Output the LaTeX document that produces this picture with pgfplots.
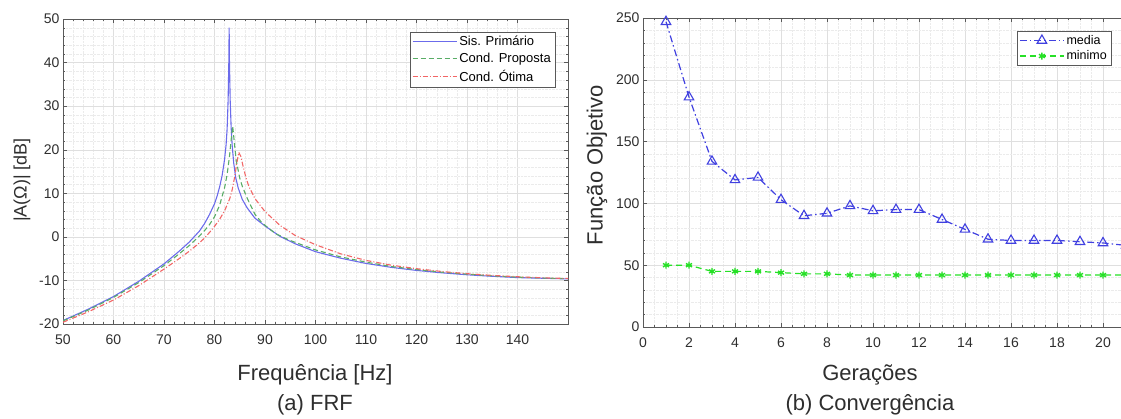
\documentclass[border=0pt]{standalone}
\usepackage{pgfplots}
\pgfplotsset{compat=1.18}
\usepackage{fontspec}
\setmainfont{Liberation Sans}
\definecolor{axgray}{rgb}{0.35,0.35,0.35}
\definecolor{txtgray}{rgb}{0.18,0.18,0.18}
\definecolor{cblue}{rgb}{0.42,0.42,0.92}
\definecolor{cgreen}{rgb}{0.35,0.68,0.40}
\definecolor{cred}{rgb}{0.95,0.40,0.40}
\definecolor{mblue}{rgb}{0.25,0.25,0.88}
\definecolor{mgreen}{rgb}{0.15,0.88,0.15}
\pgfplotsset{
  mystyle/.style={
    scale only axis,
    axis line style={axgray},
    every tick/.style={axgray},
    grid=both,
    major grid style={gray!25},
    minor grid style={gray!16, densely dotted},
    tick label style={font=\fontsize{14}{15}\selectfont, text=txtgray},
    xticklabel style={yshift=-7pt},
    /pgf/number format/assume math mode=true,
    major tick length=4pt,
    minor tick length=2pt,
    legend cell align=left,
  }
}
\begin{document}
\begin{tikzpicture}
\useasboundingbox (0pt,0pt) rectangle (1121pt,-419pt);
\begin{axis}[mystyle,
  at={(63pt,-324pt)}, anchor=south west,
  width=505pt, height=305pt,
  xmin=50, xmax=150, ymin=-20, ymax=50,
  xtick={50,60,...,140}, ytick={-20,-10,...,50},
  minor x tick num=4, minor y tick num=4,
  legend style={at={(axis description cs:1,1)}, anchor=north east, xshift=-13pt, yshift=-13pt,
    font=\fontsize{13}{14}\selectfont, draw=axgray, fill=white, inner sep=2pt, row sep=2pt},
  legend image code/.code={\draw[#1] (0pt,0pt) -- (44pt,0pt);},
]
\addplot[cblue, line width=1.1pt] coordinates {
(50,-19.2) (55,-16.6) (60,-13.7) (65,-10.2) (70,-6.2) (73,-3.3) (75,-1.2) (77,1.3)
(78,3.0) (79,5.1) (80,7.6) (80.5,9.3) (81,11.4) (81.5,14.0) (82,17.8) (82.3,21.2)
(82.5,24.8) (82.7,31.5) (82.85,41) (82.9,48) (82.95,41) (83.1,31.5) (83.3,25)
(83.5,21) (83.8,17) (84.2,13.6) (84.7,11.2) (85.5,8.6) (86.5,6.6) (88,4.3)
(90,2.5) (93,0.1) (96,-1.6) (100,-3.4) (105,-4.9) (110,-6.1) (115,-7.0)
(120,-7.7) (125,-8.25) (130,-8.7) (135,-9.05) (140,-9.35) (145,-9.5) (150,-9.65)
};
\addlegendentry{Sis. Primário}
\addplot[cgreen, line width=1.1pt, dash pattern=on 5pt off 3pt] coordinates {
(50,-19.3) (55,-16.8) (60,-13.9) (65,-10.5) (70,-6.6) (73,-3.9) (75,-2.0) (77,0.2)
(78,1.4) (79,2.8) (80,4.6) (81,7.2) (82,11.3) (82.5,14.3) (83,18.8) (83.3,22.3) (83.6,25.4)
(83.9,22) (84.3,17.5) (85,13.5) (85.5,11.6) (86.5,8.8) (88,5.2) (89.4,3.2)
(92,0.8) (94.7,-0.7) (100,-3.0) (105,-4.6) (110,-5.8) (115,-6.8) (120,-7.5)
(125,-8.1) (130,-8.55) (135,-8.95) (140,-9.25) (145,-9.45) (150,-9.6)
};
\addlegendentry{Cond. Proposta}
\addplot[cred, line width=1.1pt, dash pattern=on 5pt off 2pt on 1pt off 2pt] coordinates {
(50,-19.6) (55,-17.2) (60,-14.5) (65,-11.2) (70,-7.4) (73,-5.0) (75,-3.3) (77,-1.4)
(78,-0.3) (79,1.0) (80,2.4) (81,4.0) (82,6.0) (83,8.7) (83.5,10.8) (84,13.8)
(84.4,16.8) (84.8,19.4) (85.2,18.5) (85.7,16) (86.3,13.3) (86.8,11.6) (88,8.8)
(90,5.8) (93,2.6) (96,0.3) (100,-1.8) (105,-3.9) (110,-5.4) (115,-6.5) (120,-7.3)
(125,-7.95) (130,-8.45) (135,-8.85) (140,-9.15) (145,-9.4) (150,-9.55)
};
\addlegendentry{Cond. Ótima}
\end{axis}

\begin{axis}[mystyle,
  at={(643pt,-327pt)}, anchor=south west,
  width=483pt, height=309pt,
  xmin=0, xmax=21, ymin=0, ymax=250,
  xtick={0,2,...,20}, ytick={0,50,...,250},
  minor x tick num=3, minor y tick num=4,
  legend style={at={(axis description cs:1,1)}, anchor=north east, xshift=-15pt, yshift=-13pt,
    font=\fontsize{12.5}{13}\selectfont, draw=axgray, fill=white, inner sep=2pt, row sep=1pt},
  legend image code/.code={\draw[mark repeat=2, mark phase=2, #1] plot coordinates {(0pt,0pt) (22pt,0pt) (44pt,0pt)};},
]
\addplot[mblue, line width=1.2pt, dash pattern=on 7pt off 3pt on 1.5pt off 3pt,
  mark=triangle, mark size=5.5pt, mark options={solid, line width=1.1pt}] coordinates {
(1,247) (2,186) (3,134) (4,119) (5,121) (6,103) (7,90) (8,92) (9,98) (10,94)
(11,95) (12,95) (13,87) (14,79) (15,71) (16,70) (17,70) (18,70) (19,69) (20,68) (21,66)
};
\addlegendentry{media}
\addplot[mgreen, line width=1.2pt, dash pattern=on 6pt off 4pt,
  mark=asterisk, mark size=3.5pt, mark options={solid, line width=1.4pt}] coordinates {
(1,50) (2,50) (3,45) (4,45) (5,45) (6,44) (7,43) (8,43) (9,42) (10,42)
(11,42) (12,42) (13,42) (14,42) (15,42) (16,42) (17,42) (18,42) (19,42) (20,42) (21,42)
};
\addlegendentry{minimo}
\end{axis}

\node[rotate=90, font=\fontsize{18}{20}\selectfont, text=txtgray] at (22pt,-180pt) {|A(Ω)| [dB]};
\node[rotate=90, font=\fontsize{22}{24}\selectfont, text=txtgray] at (597pt,-165pt) {Função Objetivo};
\node[font=\fontsize{22}{24}\selectfont, text=txtgray] at (315pt,-375pt) {Frequência [Hz]};
\node[font=\fontsize{22}{24}\selectfont, text=txtgray] at (315pt,-405pt) {(a) FRF};
\node[font=\fontsize{22}{24}\selectfont, text=txtgray] at (870pt,-375pt) {Gerações};
\node[font=\fontsize{22}{24}\selectfont, text=txtgray] at (870pt,-405pt) {(b) Convergência};
\end{tikzpicture}
\end{document}
